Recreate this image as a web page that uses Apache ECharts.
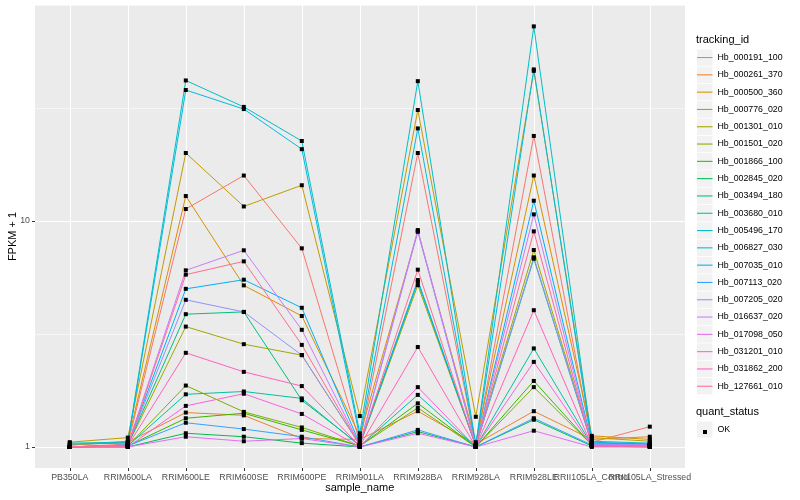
<!DOCTYPE html>
<html>
<head>
<meta charset="utf-8">
<script src="https://cdn.jsdelivr.net/npm/echarts@6/dist/echarts.min.js"></script>
<style>html,body{margin:0;padding:0;background:#fff}#c{width:800px;height:500px}</style>
</head>
<body>
<div id="c"></div>
<script>
const categories = ['PB350LA','RRIM600LA','RRIM600LE','RRIM600SE','RRIM600PE','RRIM901LA','RRIM928BA','RRIM928LA','RRIM928LE','RRII105LA_Control','RRII105LA_Stressed'];
const trackingIds = ['Hb_000191_100','Hb_000261_370','Hb_000500_360','Hb_000776_020','Hb_001301_010','Hb_001501_020','Hb_001866_100','Hb_002845_020','Hb_003494_180','Hb_003680_010','Hb_005496_170','Hb_006827_030','Hb_007035_010','Hb_007113_020','Hb_007205_020','Hb_016637_020','Hb_017098_050','Hb_031201_010','Hb_031862_200','Hb_127661_010'];
const colors = ['#F8766D','#EA8331','#D89000','#C09B00','#A3A500','#7CAE00','#39B600','#00BB4E','#00BF7D','#00C1A3','#00BFC4','#00BAE0','#00B0F6','#35A2FF','#9590FF','#C77CFF','#E76BF3','#FA62DB','#FF62BC','#FF6C91'];
// FPKM + 1 per sample (same order as categories)
const Hb_000191_100 = [1.00,1.03,11.3,15.9,7.57,1.05,20.0,1.02,23.8,1.05,1.23];
const Hb_000261_370 = [1.02,1.05,1.42,1.38,1.09,1.08,1.44,1.03,1.44,1.08,1.11];
const Hb_000500_360 = [1.02,1.06,12.9,5.19,3.80,1.12,9.0,1.05,15.9,1.12,1.08];
const Hb_000776_020 = [1.05,1.10,20.0,11.6,14.4,1.37,31.0,1.36,46.2,1.10,1.06];
const Hb_001301_010 = [1.00,1.02,3.41,2.85,2.55,1.02,5.2,1.01,7.44,1.03,1.02];
const Hb_001501_020 = [1.00,1.01,1.87,1.43,1.22,1.01,1.49,1.00,1.84,1.02,1.01];
const Hb_001866_100 = [1.00,1.01,1.34,1.41,1.19,1.01,1.56,1.00,1.96,1.02,1.01];
const Hb_002845_020 = [1.00,1.00,1.15,1.11,1.04,1.00,1.17,1.00,1.32,1.01,1.00];
const Hb_003494_180 = [1.00,1.02,3.87,3.96,1.61,1.02,5.38,1.01,6.81,1.03,1.02];
const Hb_003680_010 = [1.00,1.01,1.71,1.76,1.64,1.01,1.70,1.00,2.73,1.02,1.01];
const Hb_005496_170 = [1.04,1.05,41.9,32.0,22.6,1.15,41.6,1.02,72.7,1.06,1.04];
const Hb_006827_030 = [1.03,1.04,38.0,31.3,20.8,1.10,25.7,1.02,46.9,1.05,1.03];
const Hb_007035_010 = [1.00,1.02,5.01,5.50,4.13,1.03,5.48,1.01,12.3,1.04,1.03];
const Hb_007113_020 = [1.00,1.01,1.28,1.20,1.11,1.00,1.19,1.00,1.34,1.02,1.01];
const Hb_007205_020 = [1.00,1.02,4.48,3.96,2.55,1.02,8.97,1.01,6.91,1.03,1.02];
const Hb_016637_020 = [1.00,1.02,6.05,7.42,3.30,1.02,9.12,1.01,10.7,1.02,1.02];
const Hb_017098_050 = [1.00,1.00,1.11,1.06,1.09,1.00,1.15,1.00,1.18,1.00,1.00];
const Hb_031201_010 = [1.00,1.00,1.52,1.72,1.40,1.00,1.84,1.00,2.38,1.01,1.00];
const Hb_031862_200 = [1.00,1.01,2.61,2.15,1.86,1.01,2.77,1.00,4.03,1.01,1.01];
const Hb_127661_010 = [1.00,1.01,5.79,6.63,2.83,1.02,6.09,1.00,9.0,1.01,1.01];
const seriesValues = [Hb_000191_100,Hb_000261_370,Hb_000500_360,Hb_000776_020,Hb_001301_010,Hb_001501_020,Hb_001866_100,Hb_002845_020,Hb_003494_180,Hb_003680_010,Hb_005496_170,Hb_006827_030,Hb_007035_010,Hb_007113_020,Hb_007205_020,Hb_016637_020,Hb_017098_050,Hb_031201_010,Hb_031862_200,Hb_127661_010];
const yTickLabels = [1, 10];

const FONT = "'Liberation Sans', Arial, Helvetica, sans-serif";
const yMin = 0.807, yMax = 90.4;

const lineSeries = trackingIds.map((id, i) => ({
  name: id, type: 'line', xAxisIndex: 1, yAxisIndex: 2,
  data: seriesValues[i], color: colors[i],
  symbol: 'none', showSymbol: false,
  lineStyle: { width: 1.0, color: colors[i] },
  emphasis: { disabled: true }, silent: true, z: 2
}));
const pointData = [];
seriesValues.forEach(vals => vals.forEach((v, ci) => pointData.push([ci, v])));
const pointSeries = {
  name: 'OK', type: 'scatter', xAxisIndex: 1, yAxisIndex: 2,
  data: pointData, symbol: 'rect', symbolSize: 4,
  itemStyle: { color: '#000', opacity: 1 }, emphasis: { disabled: true }, silent: true, z: 3
};

const legendText = { fontSize: 8.8, color: '#000', fontFamily: FONT, lineHeight: 16.5 };
const hiddenText = { fontSize: 8.8, color: 'rgba(0,0,0,0)', fontFamily: FONT, lineHeight: 16.5 };

const chart = echarts.init(document.getElementById('c'), null, { renderer: 'canvas' });
chart.setOption({
  animation: false,
  textStyle: { fontFamily: FONT },
  title: [
    { text: 'tracking_id', left: 696, top: 34, padding: 0, textStyle: { fontSize: 11, fontWeight: 'normal', color: '#000', fontFamily: FONT } },
    { text: 'quant_status', left: 696, top: 406, padding: 0, textStyle: { fontSize: 11, fontWeight: 'normal', color: '#000', fontFamily: FONT } }
  ],
  grid: [
    { left: 35, top: 5, width: 650, height: 463, show: true, backgroundColor: '#EBEBEB', borderWidth: 0, containLabel: false, outerBoundsMode: 'none' },
    { left: 69.8, top: 5, width: 580, height: 463, show: false, containLabel: false, outerBoundsMode: 'none' }
  ],
  xAxis: [
    { gridIndex: 0, type: 'value', min: 0, max: 1, show: false },
    { gridIndex: 1, type: 'category', data: categories, boundaryGap: false,
      axisLine: { show: false },
      axisTick: { show: true, interval: 0, length: 3, lineStyle: { color: '#333333', width: 1 } },
      axisLabel: { interval: 0, margin: 5, fontSize: 8.8, color: '#4D4D4D', fontFamily: FONT },
      splitLine: { show: true, interval: 0, lineStyle: { color: '#FFFFFF', width: 1.1 } },
      name: 'sample_name', nameLocation: 'middle', nameGap: 14.5, nameMoveOverlap: false,
      nameTextStyle: { fontSize: 11, color: '#000', fontFamily: FONT }
    }
  ],
  yAxis: [
    { gridIndex: 0, type: 'log', logBase: 10, min: yMin, max: yMax,
      axisLine: { show: false },
      axisTick: { show: true, length: 3, customValues: yTickLabels, lineStyle: { color: '#333333', width: 1 } },
      axisLabel: { margin: 5, fontSize: 8.8, color: '#4D4D4D', fontFamily: FONT, customValues: yTickLabels,
        formatter: v => { for (const t of yTickLabels) { if (Math.abs(v - t) < 1e-6 * t) return String(t); } return ''; } },
      splitLine: { show: true, lineStyle: { color: '#FFFFFF', width: 1.1 } },
      name: 'FPKM + 1', nameLocation: 'middle', nameGap: 17, nameMoveOverlap: false,
      nameTextStyle: { fontSize: 11, color: '#000', fontFamily: FONT }
    },
    { gridIndex: 0, type: 'log', logBase: Math.sqrt(10), min: yMin, max: yMax,
      axisLine: { show: false }, axisTick: { show: false }, axisLabel: { show: false },
      splitLine: { show: true, lineStyle: { color: '#FFFFFF', width: 0.55 } }
    },
    { gridIndex: 1, type: 'log', logBase: 10, min: yMin, max: yMax, show: false,
      axisLine: { show: false }, axisTick: { show: false }, axisLabel: { show: false }, splitLine: { show: false } }
  ],
  legend: [
    { data: trackingIds, orient: 'vertical', left: 697, top: 49.3, padding: 0,
      itemWidth: 15.5, itemHeight: 16.5, itemGap: 0.8, icon: 'rect',
      itemStyle: { color: '#F2F2F2', borderWidth: 0 }, selectedMode: false, z: 4,
      textStyle: legendText },
    { data: trackingIds, orient: 'vertical', left: 697, top: 49.3, padding: 0,
      itemWidth: 15.5, itemHeight: 16.5, itemGap: 0.8, icon: 'path://M0,0H16V1.1H0Z',
      itemStyle: { borderWidth: 0 }, selectedMode: false, z: 5,
      textStyle: hiddenText },
    { data: ['OK'], orient: 'vertical', left: 697, top: 421.5, padding: 0,
      itemWidth: 15.5, itemHeight: 16, icon: 'rect',
      itemStyle: { color: '#F2F2F2', borderWidth: 0 }, selectedMode: false, z: 4,
      textStyle: { fontSize: 8.8, color: '#000', fontFamily: FONT, lineHeight: 16 } },
    { data: ['OK'], orient: 'vertical', left: 703, top: 427.5, padding: 0,
      itemWidth: 4, itemHeight: 4, icon: 'rect',
      itemStyle: { color: '#000', borderWidth: 0 }, selectedMode: false, z: 5,
      textStyle: { fontSize: 8.8, color: 'rgba(0,0,0,0)', fontFamily: FONT, lineHeight: 4 } }
  ],
  series: lineSeries.concat([pointSeries])
});
</script>
</body>
</html>
